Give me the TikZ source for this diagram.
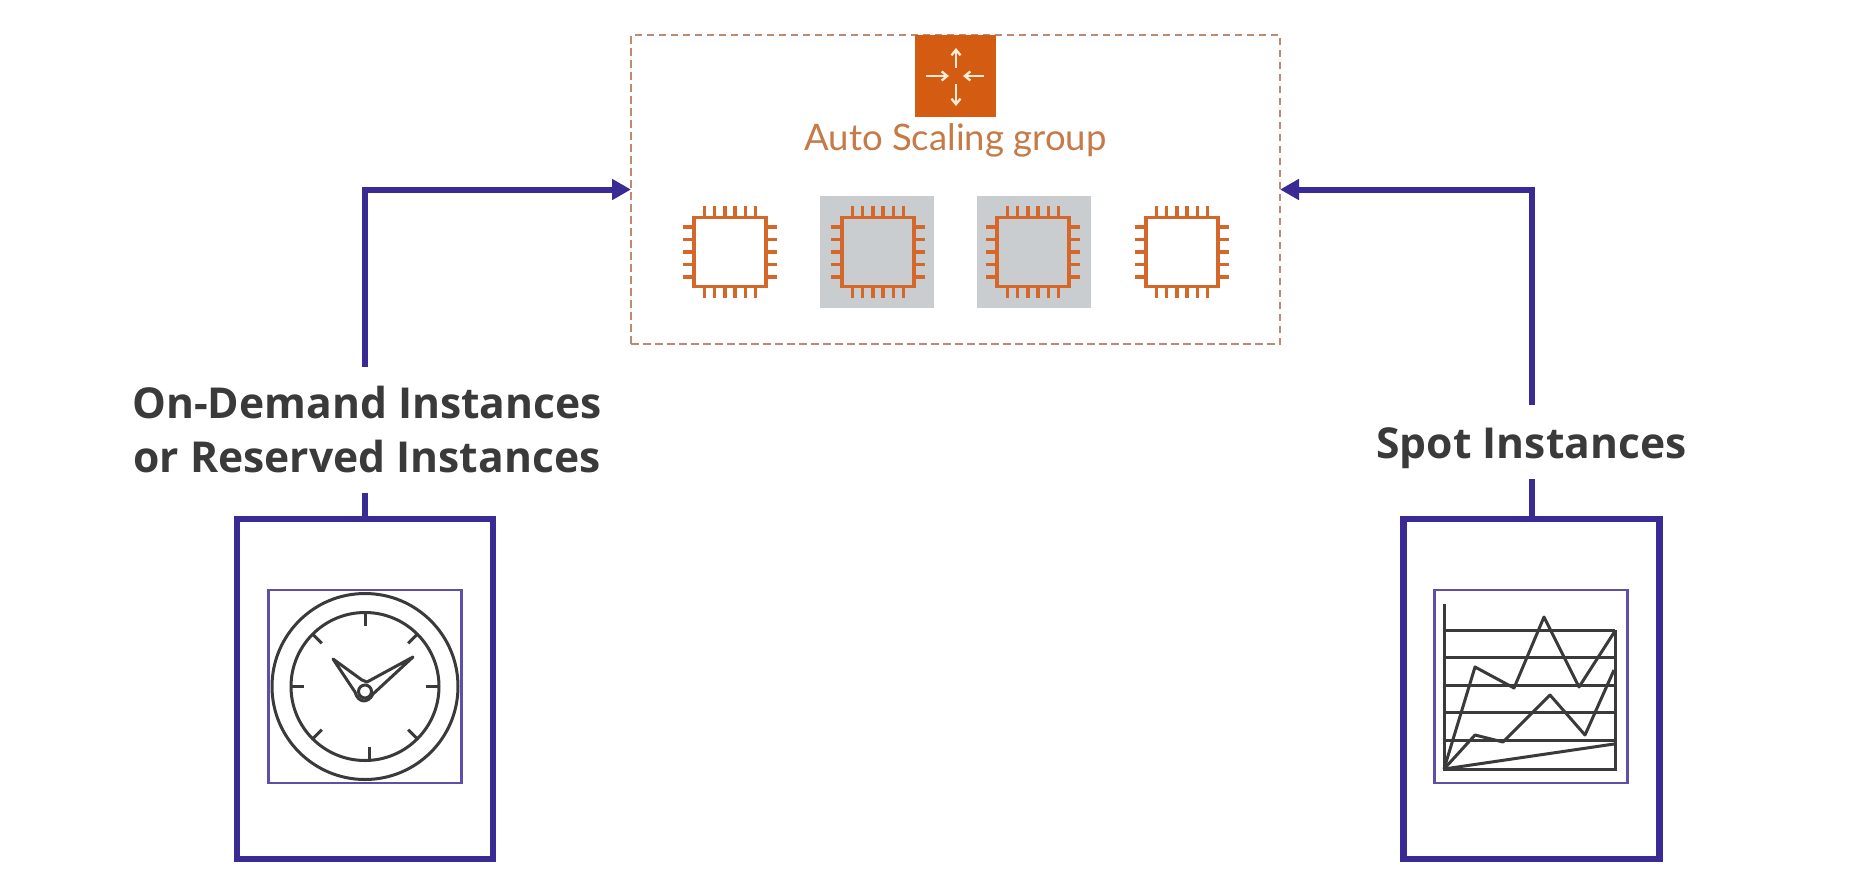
\documentclass[tikz,border=0pt]{standalone}
\usepackage{fontspec}
\setmainfont{Open Sans}
\newfontfamily\asgfont{Lato}
\usetikzlibrary{arrows.meta}
\definecolor{purp}{HTML}{3A2A96}
\definecolor{purpthin}{HTML}{5F4FA8}
\definecolor{dashc}{HTML}{BE8A70}
\definecolor{orangeicon}{HTML}{D45B12}
\definecolor{chipc}{HTML}{D4682B}
\definecolor{asgtext}{HTML}{C67A48}
\definecolor{greyb}{HTML}{C9CDD0}
\definecolor{inkc}{HTML}{3A3A3A}
\tikzset{
  outerbox/.style={draw=purp,line width=6.5pt,fill=white,minimum width=256pt,minimum height=340pt,outer sep=0pt,inner sep=0pt},
  innerbox/.style={draw=purpthin,line width=2.2pt,minimum width=193pt,minimum height=193pt,outer sep=0pt,inner sep=0pt},
  groupbox/.style={draw=dashc,line width=2.2pt,dash pattern=on 7.5pt off 4.5pt,minimum width=649pt,minimum height=309pt,outer sep=0pt,inner sep=0pt},
  conn/.style={draw=purp,line width=6pt,-{Triangle[length=19pt,width=20pt]}},
  lab/.style={fill=white,text=inkc,font=\fontsize{42.6}{54}\selectfont\bfseries,align=center,inner sep=0pt,outer sep=0pt},
  inkline/.style={draw=inkc,line width=3pt},
  chipbody/.style={draw=chipc,line width=3.8pt,minimum width=72pt,minimum height=69pt,outer sep=0pt,inner sep=0pt},
  chippin/.style={draw=chipc,line width=3.4pt},
  greyback/.style={fill=greyb,minimum width=114pt,minimum height=112pt,outer sep=0pt,inner sep=0pt},
  iconarrow/.style={draw=white!85!orange,line width=2.3pt,-{Straight Barb[length=5.5pt,width=9pt]}},
}
\newcommand{\chipicon}[3]{%
  \node[chipbody] (#1) at (#2,#3) {};
  \foreach \i in {-2.5,-1.5,-0.5,0.5,1.5,2.5}{
    \draw[chippin] ({#2+\i*10.2},{#3-35}) -- ({#2+\i*10.2},{#3-46});
    \draw[chippin] ({#2+\i*10.2},{#3+35}) -- ({#2+\i*10.2},{#3+46});
  }
  \foreach \i in {-2,-1,0,1,2}{
    \draw[chippin] ({#2-37},{#3+\i*12.5}) -- ({#2-47},{#3+\i*12.5});
    \draw[chippin] ({#2+37},{#3+\i*12.5}) -- ({#2+47},{#3+\i*12.5});
  }
}
\begin{document}
\begin{tikzpicture}[x=1pt,y=-1pt]
\useasboundingbox[fill=white] (0,0) rectangle (1864,887);
% group
\node[groupbox] (group) at (955.5,189.5) {};
\node[fill=orangeicon,minimum width=81pt,minimum height=82pt,outer sep=0pt,inner sep=0pt] (asgicon) at (955.5,76) {};
\draw[iconarrow] (956,68) -- (956,48);
\draw[iconarrow] (956,84) -- (956,106);
\draw[iconarrow] (926,76) -- (949,76);
\draw[iconarrow] (984,76) -- (963,76);
\node[text=asgtext,font=\asgfont\fontsize{36.5}{42}\selectfont,inner sep=0pt] (asglabel) at (955.5,140.5) {Auto Scaling group};
% chips
\node[greyback] (g2) at (877,252) {};
\node[greyback] (g3) at (1033.5,252) {};
\chipicon{c1}{730}{252}
\chipicon{c2}{878}{252}
\chipicon{c3}{1033}{252}
\chipicon{c4}{1182}{252}
% boxes
\node[outerbox] (odbox) at (365,689) {};
\node[outerbox] (spotbox) at (1531.5,689) {};
% connectors
\draw[conn] (odbox.north) |- (group.west);
\draw[conn] (spotbox.north) |- (group.east);
\node[lab,minimum height=126pt] (odlabel) at (367,430) {On-Demand Instances\\or Reserved Instances};
\node[lab,minimum height=74pt] (spotlabel) at (1531.5,442) {\raisebox{-16pt}[0pt][0pt]{Spot Instances}};
% clock
\node[innerbox] (odinner) at (365,686.5) {};
\node[inkline,circle,minimum size=186pt,inner sep=0pt,outer sep=0pt] (clockouter) at (365,686.5) {};
\node[inkline,circle,minimum size=148pt,inner sep=0pt,outer sep=0pt] (clockinner) at (365,686.5) {};
\foreach \a in {0,45,135,180,225,270,315}{
  \draw[inkline] ({365+61*cos(\a)},{686.5+61*sin(\a)}) -- ({365+74*cos(\a)},{686.5+74*sin(\a)});
}
\draw[inkline] (369,747) -- (369,759);
\draw[inkline,line join=round] (333,659) -- (362,680) -- (367,682) -- (413,657) -- (373,694) .. controls (368,704) and (358,703) .. (355,692) -- cycle;
\node[inkline,fill=white,circle,minimum size=13pt,inner sep=0pt] (hub) at (365,691.5) {};
% chart
\node[innerbox] (spotinner) at (1531,686.5) {};
\draw[inkline] (1444,604) -- (1444,769) -- (1615,769) -- (1615,630);
\foreach \yy in {630,657,685,712,740}{
  \draw[inkline] (1444,\yy) -- (1615,\yy);
}
\draw[inkline,line join=round] (1444,769) -- (1475,667) -- (1514,688) -- (1544,617) -- (1579,687) -- (1615,631);
\draw[inkline,line join=round] (1444,769) -- (1475,735) -- (1503,742) -- (1550,695) -- (1585,735) -- (1614,670);
\draw[inkline] (1444,769) -- (1614,744);
\end{tikzpicture}
\end{document}
